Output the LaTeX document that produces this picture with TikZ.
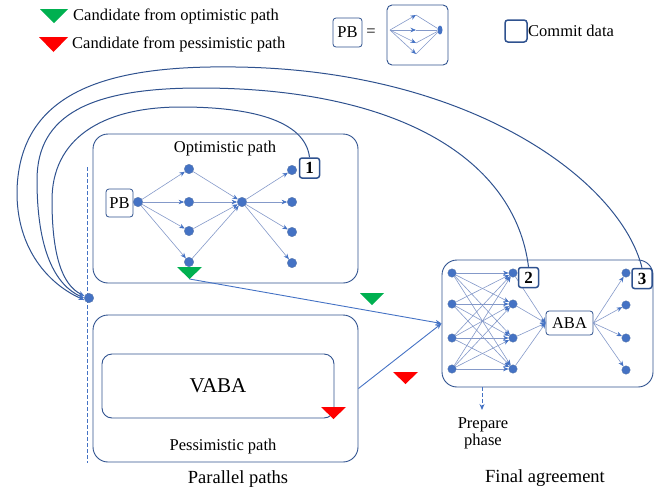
\documentclass[tikz,border=0pt]{standalone}
\usepackage{fontspec}
\setmainfont{Liberation Serif}
\usetikzlibrary{arrows.meta,shapes.geometric}
\definecolor{dkblue}{HTML}{2F528F}
\definecolor{dotblue}{HTML}{4472C4}
\definecolor{edgec}{HTML}{8499C9}
\definecolor{grn}{HTML}{00B050}
\definecolor{rd}{HTML}{FF0000}
\begin{document}
\begin{tikzpicture}[x=1pt,y=-1pt,
 dot/.style={circle,fill=dotblue,draw=dkblue!80,line width=0.3pt,minimum size=9.5pt,inner sep=0pt},
 sdot/.style={dot,minimum size=8.5pt},
 bigbox/.style={draw=dkblue,line width=0.9pt,rounded corners=15pt,inner sep=0pt},
 numbox/.style={draw=dkblue,line width=1.5pt,rounded corners=2.5pt,minimum width=20pt,minimum height=20pt,inner sep=0pt,fill=white,font=\bfseries\fontsize{17}{17}\selectfont},
 smallbox/.style={draw=dkblue,line width=0.8pt,rounded corners=3pt,inner sep=0pt,fill=white,font=\fontsize{16.5}{18}\selectfont},
 txt/.style={font=\fontsize{16.5}{18}\selectfont,inner sep=0pt},
 bigtxt/.style={font=\fontsize{18.5}{20}\selectfont,inner sep=0pt},
 edge/.style={draw=edgec,line width=0.6pt,-{Stealth[length=5.5pt,width=4.5pt,color=dotblue]}},
 plainedge/.style={draw=edgec,line width=0.6pt},
 conn/.style={draw=dotblue,line width=0.9pt,-{Stealth[length=6pt,width=5pt]}},
 curve/.style={draw=dkblue,line width=1pt,-{Stealth[length=6pt,width=4.5pt,color=dotblue]}},
]
\useasboundingbox (0,0) rectangle (662,491);

% ---------- legend ----------
\fill[grn] (40,9) -- (68,9) -- (54,23) -- cycle;
\node[txt,anchor=west] (lg) at (73,16) {Candidate from optimistic path};
\fill[rd] (39,37) -- (68,37) -- (53.5,52) -- cycle;
\node[txt,anchor=west] (lr) at (72,44) {Candidate from pessimistic path};

\node[smallbox,minimum width=29pt,minimum height=29pt] (pbl) at (347.5,32.5) {PB};
\node[txt] (eq) at (371,33) {=};
\node[draw=dkblue,line width=0.9pt,rounded corners=5pt,minimum width=61pt,minimum height=60pt] (pbbig) at (417.5,35) {};
\coordinate (ls) at (390,30);
\coordinate (lm1) at (416,15);
\coordinate (lm2) at (416,30);
\coordinate (lm3) at (416,43);
\coordinate (lm4) at (416,54);
\node[ellipse,fill=dotblue,minimum width=5pt,minimum height=9pt,inner sep=0pt] (lsink) at (440,30) {};
\foreach \i in {1,...,4}{
  \draw[edge] (ls) -- (lm\i);
  \draw[plainedge] (lm\i) -- (lsink);
}

\node[draw=dkblue,line width=1.5pt,rounded corners=3pt,minimum width=22pt,minimum height=22pt,inner sep=0pt] (cbox) at (516,31) {};
\node[txt,anchor=west] (ctext) at (528,31) {Commit data};

% ---------- big boxes ----------
\node[bigbox,minimum width=265pt,minimum height=149pt] (opt) at (225.5,208.5) {};
\node[txt] (optl) at (225,149) {Optimistic path};
\node[bigbox,minimum width=265pt,minimum height=147pt] (pes) at (225.5,388.5) {};
\node[txt] (pesl) at (223,447) {Pessimistic path};
\node[draw=dkblue,line width=0.9pt,rounded corners=10pt,minimum width=232pt,minimum height=64pt,inner sep=0pt,font=\fontsize{21}{22}\selectfont] (vaba) at (218,386) {VABA};
\node[bigbox,minimum width=211pt,minimum height=127pt] (final) at (547.5,323.5) {};

% ---------- optimistic graph ----------
\node[smallbox,minimum width=27pt,minimum height=28pt] (pb) at (119.5,203) {PB};
\node[dot] (src) at (138,202) {};
\node[dot] (a1) at (189,169) {};
\node[dot] (a2) at (189,202) {};
\node[dot] (a3) at (189,231) {};
\node[dot] (a4) at (189,262) {};
\node[dot] (c) at (242,202) {};
\node[dot] (b1) at (292,170) {};
\node[dot] (b2) at (292,202) {};
\node[dot] (b3) at (292,232) {};
\node[dot] (b4) at (292,263) {};
\foreach \i in {1,...,4}{
  \draw[edge] (src) -- (a\i);
  \draw[edge] (a\i) -- (c);
  \draw[edge] (c) -- (b\i);
}
\fill[grn] (177,267) -- (202,267) -- (189.5,279) -- cycle;
\coordinate (gapex) at (189.5,279);

% ---------- final agreement graph ----------
\node[sdot] (f1) at (452,273) {};
\node[sdot] (f2) at (452,304) {};
\node[sdot] (f3) at (452,338) {};
\node[sdot] (f4) at (452,369) {};
\node[sdot] (g1) at (513,273) {};
\node[sdot] (g2) at (513,304) {};
\node[sdot] (g3) at (513,338) {};
\node[sdot] (g4) at (513,369) {};
\node[sdot] (h1) at (626,273) {};
\node[sdot] (h2) at (626,305) {};
\node[sdot] (h3) at (626,338) {};
\node[sdot] (h4) at (626,370) {};
\node[smallbox,minimum width=47pt,minimum height=24pt] (aba) at (569.5,323) {ABA};
\foreach \i in {1,...,4}{
  \foreach \k in {1,...,4}{
    \draw[edge] (f\i) -- (g\k);
  }
  \draw[edge] (g\i) -- (aba.west);
  \draw[edge] (aba.east) -- (h\i);
}

% ---------- commit boxes ----------
\node[numbox] (n1) at (309.5,168) {1};
\node[numbox] (n2) at (528.5,277.5) {2};
\node[numbox] (n3) at (642,278.5) {3};

% ---------- dashed line and junction ----------
\coordinate (dtop) at (87,167);
\coordinate (dbot) at (87,463);
\draw[dotblue,line width=1pt,dash pattern=on 4pt off 2pt] (dtop) -- (dbot);
\node[dot] (j) at (89,298) {};

% ---------- feedback curves ----------
\draw[curve] (n3.north) .. controls (620,180) and (470,70) .. (236,67)
  .. controls (110,65) and (20,90) .. (17,190)
  .. controls (16,250) and (50,285) .. (j.205);
\draw[curve] (n2.north) .. controls (515,160) and (400,88) .. (200,88)
  .. controls (90,88) and (37,115) .. (37,180)
  .. controls (37,250) and (55,285) .. (j.180);
\draw[curve] (n1.north) .. controls (305,120) and (250,107) .. (181,107)
  .. controls (100,107) and (52,140) .. (52,200)
  .. controls (52,255) and (62,285) .. (j.155);

% ---------- candidates to final ----------
\draw[conn] (gapex) -- (final.west);
\draw[conn] (pes.east) -- (final.west);
\fill[grn] (360,293) -- (384,293) -- (372,305) -- cycle;
\fill[rd] (393,372) -- (418,372) -- (405.5,384) -- cycle;
\fill[rd] (321,407) -- (346,407) -- (333.5,419) -- cycle;

% ---------- prepare phase ----------
\coordinate (prep) at (482,410);
\draw[conn,dash pattern=on 4pt off 2pt] (final.south -| prep) -- (prep);
\node[txt,align=center] (prepl) at (483,433) {Prepare\\[-1pt]phase};

% ---------- bottom labels ----------
\node[bigtxt] (par) at (238,479) {Parallel paths};
\node[bigtxt] (fin) at (545,478) {Final agreement};
\end{tikzpicture}
\end{document}
